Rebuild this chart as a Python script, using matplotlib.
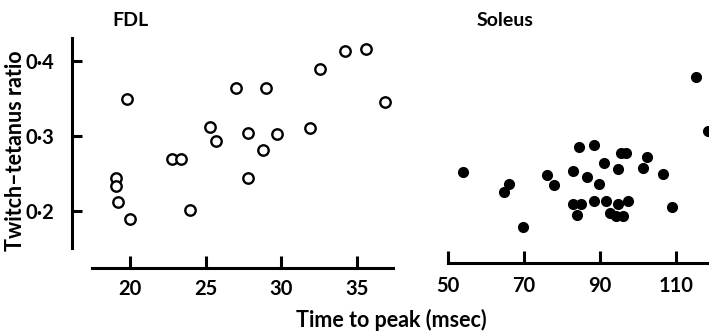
import matplotlib
matplotlib.use('Agg')
import matplotlib.pyplot as plt

plt.rcParams['font.family'] = ['Lato', 'DejaVu Sans']
plt.rcParams['font.weight'] = 'bold'

# FDL (open circles)
fdl_time = [19.1, 19.1, 19.2, 19.8, 20.0, 22.8, 23.4, 24.0, 25.3, 25.7, 27.0,
            27.8, 27.8, 28.8, 29.0, 29.7, 31.9, 32.6, 34.2, 35.6, 36.9]
fdl_ratio = [0.244, 0.234, 0.212, 0.350, 0.189, 0.270, 0.270, 0.201, 0.312, 0.294, 0.364,
             0.304, 0.244, 0.282, 0.364, 0.303, 0.311, 0.390, 0.413, 0.416, 0.346]

# Soleus (filled circles)
sol_time = [53.8, 64.8, 66.1, 69.8, 76.0, 77.8, 82.8, 82.8, 83.9, 84.6, 84.9,
            86.7, 88.4, 88.5, 89.7, 91.0, 91.6, 92.7, 94.2, 94.8, 94.9, 95.6,
            96.0, 96.9, 97.5, 101.4, 102.5, 106.6, 109.0, 115.3, 118.5]
sol_ratio = [0.252, 0.225, 0.236, 0.179, 0.248, 0.235, 0.254, 0.209, 0.195, 0.285, 0.209,
             0.245, 0.214, 0.288, 0.236, 0.264, 0.214, 0.198, 0.193, 0.209, 0.256, 0.277,
             0.194, 0.277, 0.214, 0.258, 0.272, 0.249, 0.206, 0.379, 0.307]

fdl_xticks = [20, 25, 30, 35]
sol_xticks = [50, 70, 90, 110]
yticks = [0.2, 0.3, 0.4]
ytick_labels = ['0\u00b72', '0\u00b73', '0\u00b74']

W, H = 709, 332
fig = plt.figure(figsize=(W / 100, H / 100), dpi=100)


def px_axes(left, right, top, bottom):
    return fig.add_axes([left / W, (H - bottom) / H, (right - left) / W, (bottom - top) / H])


lw = 2.2
fs_tick = 14.5
fs_lab = 15.5
fs_title = 14

# FDL panel
ax1 = px_axes(72, 393, 38, 268)
ax1.plot(fdl_time, fdl_ratio, 'o', mfc='white', mec='black', mew=1.7, ms=7.5, clip_on=False)
ax1.set_xlim(16.16, 37.41)
ax1.set_ylim(0.124, 0.4307)
for s in ['top', 'right']:
    ax1.spines[s].set_visible(False)
ax1.spines['left'].set_linewidth(lw)
ax1.spines['bottom'].set_linewidth(lw)
ax1.spines['left'].set_bounds(0.1507, 0.4307)
ax1.spines['bottom'].set_bounds(17.5, 37.41)
ax1.set_xticks(fdl_xticks)
ax1.set_yticks(yticks)
ax1.set_yticklabels(ytick_labels)
ax1.tick_params(axis='x', direction='in', length=8.5, width=lw, pad=8, labelsize=fs_tick)
ax1.tick_params(axis='y', direction='in', length=7, width=lw, pad=13, labelsize=fs_tick)
ax1.patch.set_alpha(0)

# Soleus panel
ax2 = px_axes(448.3, 709, 38, 263.3)
ax2.plot(sol_time, sol_ratio, 'o', color='black', ms=7, clip_on=False)
ax2.set_xlim(50, 118.79)
ax2.set_ylim(0.1303, 0.4307)
for s in ['top', 'right', 'left']:
    ax2.spines[s].set_visible(False)
ax2.spines['bottom'].set_linewidth(lw)
ax2.set_xticks(sol_xticks)
ax2.set_yticks([])
ax2.tick_params(axis='x', direction='in', length=8.5, width=lw, pad=9, labelsize=fs_tick)
ax2.patch.set_alpha(0)

fig.text(112 / W, 1 - 20 / H, 'FDL', ha='left', va='center', fontsize=fs_title)
fig.text(477 / W, 1 - 20 / H, 'Soleus', ha='left', va='center', fontsize=fs_title)
fig.text(16 / W, 1 - 151 / H, 'Twitch\u2013tetanus ratio', rotation=90,
         ha='center', va='center', fontsize=fs_lab)
fig.text(391 / W, 1 - 320 / H, 'Time to peak (msec)', ha='center', va='center', fontsize=fs_lab)

fig.savefig('out.png', dpi=100)
